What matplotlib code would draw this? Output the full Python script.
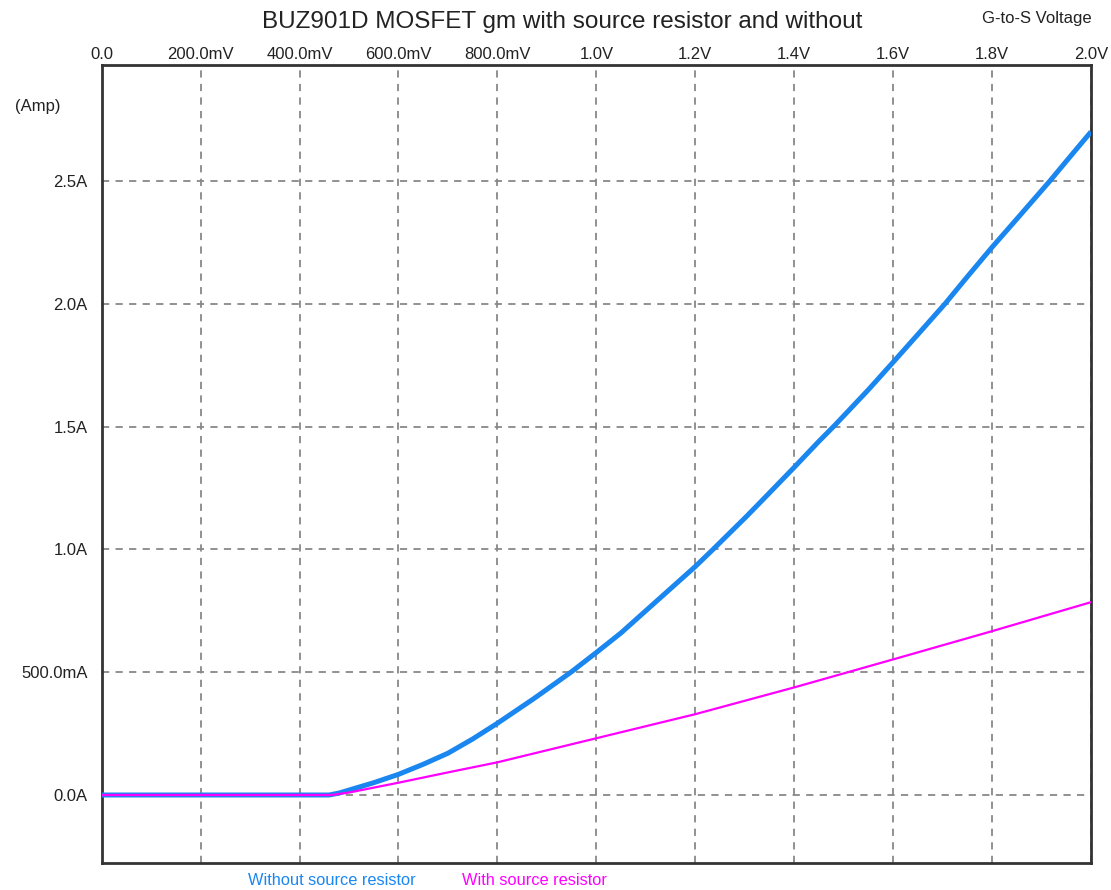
import matplotlib.pyplot as plt

plt.rcParams['font.family'] = ['Liberation Sans', 'DejaVu Sans']

# gate-source voltage (V) and drain current (A)
vgs_without = [0.0, 0.2, 0.4, 0.46, 0.48, 0.5, 0.55, 0.6, 0.65, 0.7, 0.75, 0.8, 0.872, 0.9,
               0.95, 1.0, 1.05, 1.1, 1.15, 1.2, 1.236, 1.304, 1.35, 1.4, 1.45, 1.482, 1.55,
               1.6, 1.65, 1.705, 1.75, 1.8, 1.85, 1.917, 1.95, 2.0]
id_without = [0.0, 0.0, 0.0, 0.0, 0.008, 0.02, 0.05, 0.084, 0.125, 0.17, 0.228, 0.292, 0.39,
              0.43, 0.502, 0.58, 0.66, 0.75, 0.84, 0.93, 1.0, 1.135, 1.23, 1.334, 1.44,
              1.505, 1.65, 1.762, 1.875, 2.0, 2.11, 2.23, 2.345, 2.5, 2.58, 2.70]

vgs_with = [0.0, 0.2, 0.4, 0.465, 0.5, 0.6, 0.7, 0.8, 1.0, 1.2, 1.4, 1.6, 1.8, 2.0]
id_with = [0.0, 0.0, 0.0, 0.0, 0.01, 0.05, 0.092, 0.133, 0.231, 0.329, 0.438, 0.552, 0.667, 0.785]

x_ticks = [0.0, 0.2, 0.4, 0.6, 0.8, 1.0, 1.2, 1.4, 1.6, 1.8, 2.0]
x_labels = ['0.0', '200.0mV', '400.0mV', '600.0mV', '800.0mV', '1.0V', '1.2V', '1.4V',
            '1.6V', '1.8V', '2.0V']
y_ticks = [0.0, 0.5, 1.0, 1.5, 2.0, 2.5]
y_labels = ['0.0A', '500.0mA', '1.0A', '1.5A', '2.0A', '2.5A']

blue = '#1a86f0'
pink = '#ff00ff'

fig = plt.figure(figsize=(11.11, 8.9), dpi=100)
ax = fig.add_axes([0.0915, 0.0303, 0.8905, 0.8967])

ax.plot(vgs_without, id_without, color=blue, lw=3.6, solid_capstyle='butt', zorder=3)
ax.plot(vgs_with, id_with, color=pink, lw=1.6, zorder=4)

ax.set_xlim(0, 2.0)
ax.set_ylim(-0.277, 2.972)
ax.set_xticks(x_ticks)
ax.set_xticklabels(x_labels)
ax.set_yticks(y_ticks)
ax.set_yticklabels(y_labels)
ax.xaxis.tick_top()
ax.tick_params(axis='x', length=0, pad=2, labelsize=12, colors='#222222')
ax.tick_params(axis='y', length=0, pad=10, labelsize=12, colors='#222222')

ax.grid(True, color='#888888', ls=(0, (4, 3.5)), lw=1.3)
for sp in ax.spines.values():
    sp.set_color('#333333')
    sp.set_linewidth(2)

fig.text(0.506, 0.975, 'BUZ901D MOSFET gm with source resistor and without',
         ha='center', va='center', fontsize=17.5, color='#222222')
fig.text(0.933, 0.979, 'G-to-S Voltage', ha='center', va='center', fontsize=12, color='#222222')
fig.text(0.034, 0.880, '(Amp)', ha='center', va='center', fontsize=12, color='#222222')
fig.text(0.223, 0.011, 'Without source resistor', ha='left', va='center', fontsize=11.8, color=blue)
fig.text(0.416, 0.011, 'With source resistor', ha='left', va='center', fontsize=11.8, color=pink)

fig.savefig('out.png', dpi=100)
